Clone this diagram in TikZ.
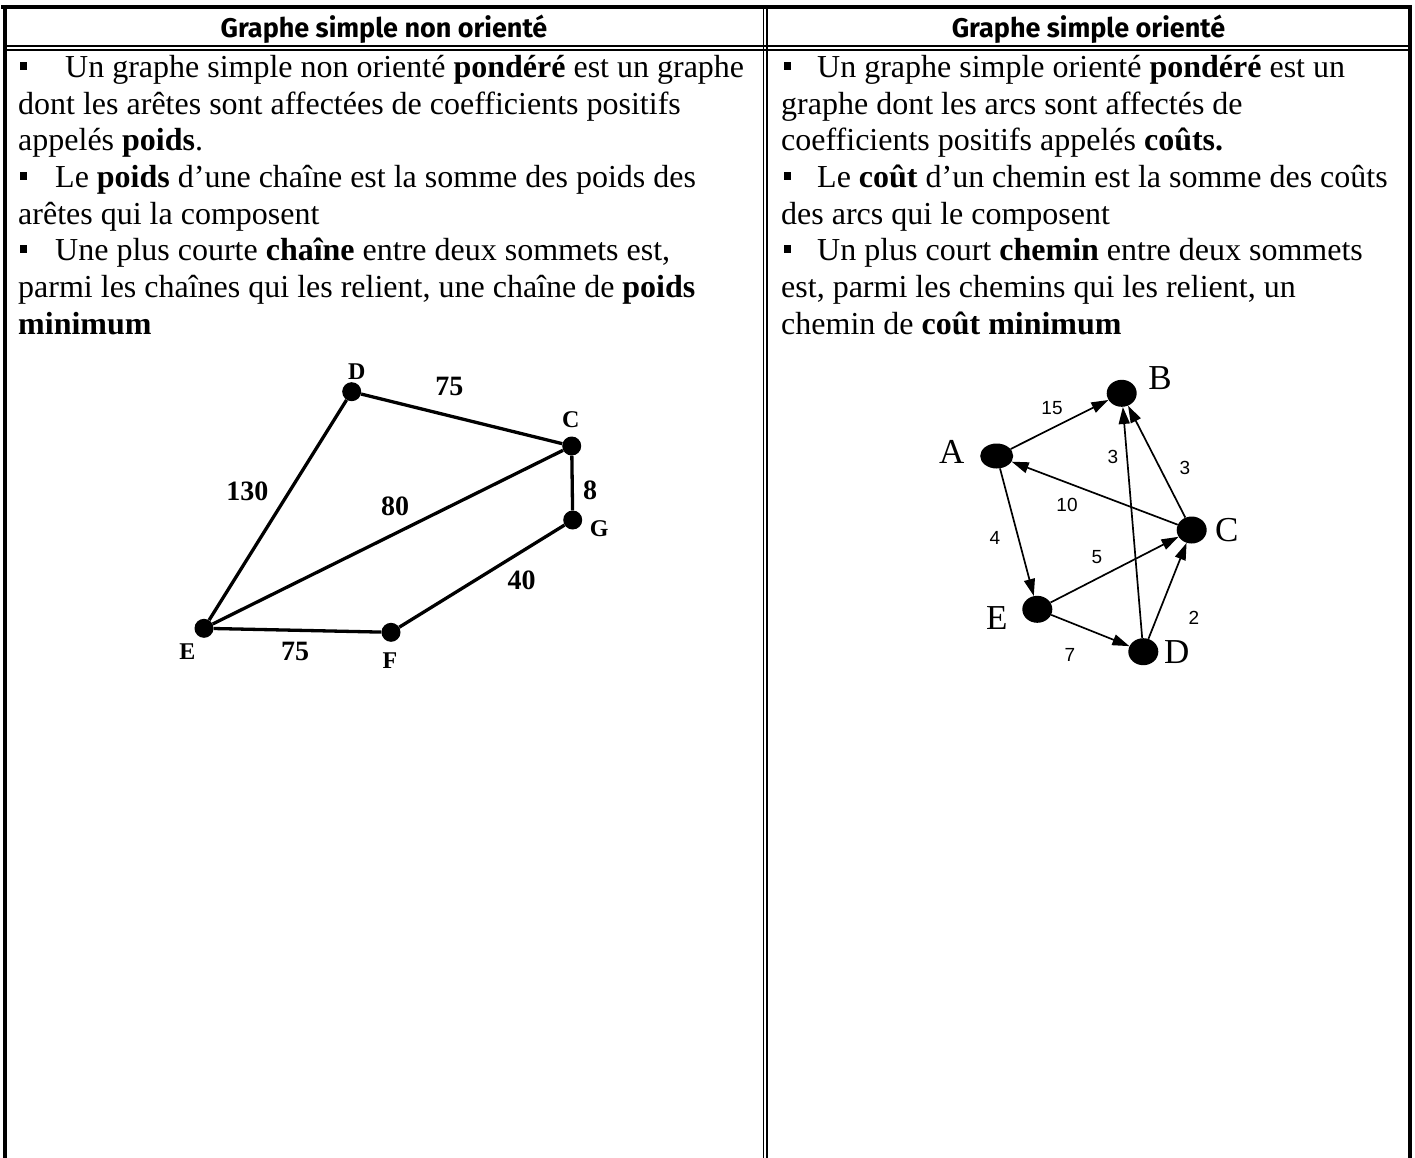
\documentclass[tikz,border=0pt]{standalone}
\usepackage{fontspec}
\setmainfont{Liberation Serif}
\newfontfamily\hdrfont{Fira Sans}
\newfontfamily\lblsans{Liberation Sans}
\usetikzlibrary{arrows.meta,shapes.geometric}
\newcommand\blt{\rule[7.5pt]{7pt}{8pt}}
\begin{document}
\begin{tikzpicture}[x=1pt,y=-1pt,
  body/.style={anchor=base west, inner sep=0pt, font=\fontsize{32}{36.8}\selectfont},
  hdr/.style={anchor=base, inner sep=0pt, font=\hdrfont\bfseries\fontsize{27}{30}\selectfont},
  udot/.style={circle, fill=black, minimum size=19pt, inner sep=0pt},
  ulbl/.style={font=\bfseries\fontsize{24}{24}\selectfont, inner sep=0pt},
  uwt/.style={font=\bfseries\fontsize{28}{28}\selectfont, inner sep=0pt},
  uedge/.style={line width=3.3pt},
  ddot/.style={ellipse, fill=black, minimum width=30pt, minimum height=27pt, inner sep=0pt},
  dlbl/.style={font=\fontsize{35}{35}\selectfont, inner sep=0pt},
  dwt/.style={font=\lblsans\fontsize{19}{19}\selectfont, inner sep=0pt},
  darc/.style={line width=1.7pt, -{Triangle[length=17pt,width=11pt]}},
  frame/.style={line width=4pt},
  rule/.style={line width=1.5pt}]
\useasboundingbox (0,0) rectangle (1415,1158);
\fill[white] (0,0) rectangle (1415,1158);

% table
\draw[frame] (1,7) -- (1412,7);
\draw[frame] (5,5) -- (5,1158);
\draw[frame] (1410,5) -- (1410,1158);
\draw[rule] (5,46) -- (1410,46);
\draw[rule] (5,50) -- (1410,50);
\draw[rule] (763.5,7) -- (763.5,1158);
\draw[rule] (767,7) -- (767,1158);

% headers
\node[hdr] (h1) at (384,38) {Graphe simple non orienté};
\node[hdr] (h2) at (1088.5,38) {Graphe simple orienté};

% left text
\node[body] (l1) at (20,77.5) {\blt\hspace{38pt}Un graphe simple non orienté \textbf{pondéré} est un graphe};
\node[body] (l2) at (18,114.2) {dont les arêtes sont affectées de coefficients positifs};
\node[body] (l3) at (18,150.9) {appelés \textbf{poids}.};
\node[body] (l4) at (20,187.6) {\blt\hspace{28pt}Le \textbf{poids} d’une chaîne est la somme des poids des};
\node[body] (l5) at (18,224.3) {arêtes qui la composent};
\node[body] (l6) at (20,261) {\blt\hspace{28pt}Une plus courte \textbf{chaîne} entre deux sommets est,};
\node[body] (l7) at (18,297.7) {parmi les chaînes qui les relient, une chaîne de \textbf{poids}};
\node[body] (l8) at (18,334.4) {\textbf{minimum}};

% right text
\node[body] (r1) at (784,77.5) {\blt\hspace{26pt}Un graphe simple orienté \textbf{pondéré} est un};
\node[body] (r2) at (781,114.2) {graphe dont les arcs sont affectés de};
\node[body] (r3) at (781,150.9) {coefficients positifs appelés \textbf{coûts.}};
\node[body] (r4) at (784,187.6) {\blt\hspace{26pt}Le \textbf{coût} d’un chemin est la somme des coûts};
\node[body] (r5) at (781,224.3) {des arcs qui le composent};
\node[body] (r6) at (784,261) {\blt\hspace{26pt}Un plus court \textbf{chemin} entre deux sommets};
\node[body] (r7) at (781,297.7) {est, parmi les chemins qui les relient, un};
\node[body] (r8) at (781,334.4) {chemin de \textbf{coût minimum}};

% undirected graph
\node[udot] (uD) at (351.7,391.7) {};
\node[udot] (uC) at (571.7,446) {};
\node[udot] (uG) at (572.7,520) {};
\node[udot] (uE) at (204,628.3) {};
\node[udot] (uF) at (391,632.3) {};
\draw[uedge] (uD) -- (uC);
\draw[uedge] (uD) -- (uE);
\draw[uedge] (uC) -- (uE);
\draw[uedge] (uC) -- (uG);
\draw[uedge] (uG) -- (uF);
\draw[uedge] (uE) -- (uF);
\node[ulbl] (luD) at (356.7,371.7) {D};
\node[ulbl] (luC) at (570.7,420) {C};
\node[ulbl] (luG) at (599.3,528.3) {G};
\node[ulbl] (luE) at (187.3,651.7) {E};
\node[ulbl] (luF) at (390,660.7) {F};
\node[uwt] (wDC) at (449.3,386.7) {75};
\node[uwt] (wDE) at (247.3,491.7) {130};
\node[uwt] (wCE) at (395,506.7) {80};
\node[uwt] (wCG) at (590,490) {8};
\node[uwt] (wGF) at (521.7,580.7) {40};
\node[uwt] (wEF) at (295,651.7) {75};

% directed graph
\node[ddot, minimum width=33pt, minimum height=25pt] (dA) at (996.7,456) {};
\node[ddot] (dB) at (1121.7,393.3) {};
\node[ddot] (dC) at (1191.7,530) {};
\node[ddot] (dE) at (1037.3,609.3) {};
\node[ddot] (dD) at (1143.3,651.7) {};
\draw[darc] (dA) -- (dB);
\draw[darc] (dC) -- (dA);
\draw[darc] (dA) -- (dE);
\draw[darc] (dD) -- (dB);
\draw[darc] (dC) -- (dB);
\draw[darc] (dE) -- (dC);
\draw[darc] (dE) -- (dD);
\draw[darc] (dD) -- (dC);
\node[dlbl] (ldA) at (951.7,451.7) {A};
\node[dlbl] (ldB) at (1160,378.3) {B};
\node[dlbl] (ldC) at (1226.7,530) {C};
\node[dlbl] (ldE) at (996.7,618.3) {E};
\node[dlbl] (ldD) at (1176.7,651.7) {D};
\node[dwt] (vAB) at (1052,408) {15};
\node[dwt] (vDB) at (1113,457) {3};
\node[dwt] (vCB) at (1185,468) {3};
\node[dwt] (vCA) at (1067,505) {10};
\node[dwt] (vAE) at (995,538) {4};
\node[dwt] (vEC) at (1097,557) {5};
\node[dwt] (vDC) at (1194,618) {2};
\node[dwt] (vED) at (1070,655) {7};
\end{tikzpicture}
\end{document}
